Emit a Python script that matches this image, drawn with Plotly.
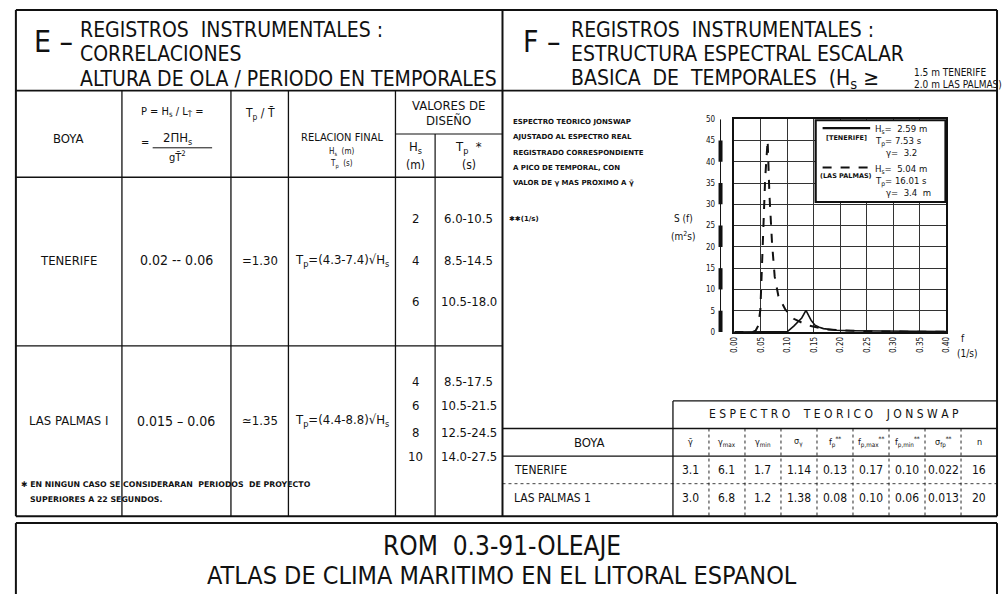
import plotly.graph_objects as go

# --- dados: espectros JONSWAP ajustados ---
freq_palmas = [0.000, 0.035, 0.040, 0.045, 0.049, 0.054, 0.058, 0.0627, 0.066, 0.071,
               0.076, 0.083, 0.096, 0.112, 0.137, 0.174, 0.237, 0.300, 0.400]
esp_palmas = [0, 0, 0.3, 1.5, 5.3, 20.9, 36, 45, 32.5, 20.9,
              13, 8.4, 5.3, 3.1, 1.6, 0.6, 0.2, 0.1, 0.05]

freq_tenerife = [0.000, 0.090, 0.100, 0.112, 0.120, 0.127, 0.135, 0.140, 0.145, 0.152,
                 0.160, 0.168, 0.180, 0.193, 0.220, 0.250, 0.300, 0.400]
esp_tenerife = [0, 0, 0.1, 1.4, 2.4, 3.3, 5.1, 3.8, 2.7, 1.6,
                1.1, 0.8, 0.6, 0.4, 0.3, 0.25, 0.15, 0.1]

x_ticks = [0.00, 0.05, 0.10, 0.15, 0.20, 0.25, 0.30, 0.35, 0.40]
x_tick_labels = ["0.00", "0.05", "0.10", "0.15", "0.20", "0.25", "0.30", "0.35", "0.40"]
y_ticks = [0, 5, 10, 15, 20, 25, 30, 35, 40, 45, 50]

# --- dados: tabela E ---
boyas_e = ["TENERIFE", "LAS PALMAS I"]
peralte = ["0.02 -- 0.06", "0.015 \u2013 0.06"]
tp_tm = ["=1.30", "\u22431.35"]
relacion = ["T<sub>p</sub>=(4.3-7.4)\u221aH<sub>s</sub>", "T<sub>p</sub>=(4.4-8.8)\u221aH<sub>s</sub>"]
hs_diseno = [["2", "4", "6"], ["4", "6", "8", "10"]]
tp_diseno = [["6.0-10.5", "8.5-14.5", "10.5-18.0"],
             ["8.5-17.5", "10.5-21.5", "12.5-24.5", "14.0-27.5"]]

# --- dados: tabela F ---
cols_jonswap = ["\u03b3\u0304", "\u03b3<sub>max</sub>", "\u03b3<sub>min</sub>", "\u03c3<sub>\u03b3</sub>",
                "f<sub>p</sub><sup>**</sup>", "f<sub>p,max</sub><sup>**</sup>",
                "f<sub>p,min</sub><sup>**</sup>", "\u03c3<sub>fp</sub><sup>**</sup>", "n"]
boyas_f = ["TENERIFE", "LAS PALMAS 1"]
valores_f = [["3.1", "6.1", "1.7", "1.14", "0.13", "0.17", "0.10", "0.022", "16"],
             ["3.0", "6.8", "1.2", "1.38", "0.08", "0.10", "0.06", "0.013", "20"]]

W, H = 1005, 599
FONTE = "DejaVu Sans Condensed, Liberation Sans, sans-serif"
FONTE_PEQ = "DejaVu Sans, sans-serif"
PRETO = "#111111"


def X(px):
    return px / W


def Y(py):
    return 1 - py / H


shapes = []
anotacoes = []


def linha(x0, y0, x1, y1, largura=1.5, dash="solid", cor=PRETO):
    shapes.append(dict(type="line", xref="paper", yref="paper",
                       x0=X(x0), y0=Y(y0), x1=X(x1), y1=Y(y1),
                       line=dict(color=cor, width=largura, dash=dash)))


def texto(x, y, s, tam=13, anchor="center", familia=FONTE, peso="normal"):
    anotacoes.append(dict(xref="paper", yref="paper", x=X(x), y=Y(y), text=s,
                          showarrow=False, xanchor=anchor, yanchor="middle",
                          font=dict(family=familia, size=tam, color=PRETO, weight=peso)))


# moldura geral
linha(12, 6, 1002, 6, 2)
linha(12, 6, 12, 520, 2)
linha(1002, 6, 1002, 520, 2)
linha(12, 520, 1002, 520, 2)
linha(503, 6, 503, 520, 2)
linha(12, 88, 1002, 88, 1.8)

# rodape
linha(12, 527, 1002, 527, 2)
linha(12, 527, 12, 599, 2)
linha(1002, 527, 1002, 599, 2)
texto(502, 550, "ROM  0.3-91-OLEAJE", 26)
texto(502, 580, "ATLAS DE CLIMA MARITIMO EN EL LITORAL ESPANOL", 25)

# --- painel E ---
texto(28, 38, "E \u2013", 30, "left")
texto(75, 26, "REGISTROS  INSTRUMENTALES :", 21, "left")
texto(75, 51, "CORRELACIONES", 21, "left")
texto(75, 76, "ALTURA DE OLA / PERIODO EN TEMPORALES", 21, "left")

for xv in [119, 229, 287, 395]:
    linha(xv, 88, xv, 520, 1.3)
linha(435, 132, 435, 520, 1.2)
linha(395, 132, 503, 132, 1.2)
linha(12, 176, 503, 176, 1.5)
linha(12, 347, 503, 347, 1.3)

texto(65, 137, "BOYA", 13)
texto(170, 110, "P = H<sub>s</sub> / L<sub>T\u0304</sub> =", 11)
texto(142, 141, "=", 11)
texto(175, 137, "2\u03a0H<sub>s</sub>", 13)
linha(150, 146, 210, 146, 1)
texto(175, 155, "gT\u0304<sup>2</sup>", 11)
texto(258, 112, "T<sub>p</sub> / T\u0304", 12)
texto(341, 136, "RELACION FINAL", 11)
texto(341, 150, "H<sub>s</sub>  (m)", 8)
texto(341, 163, "T<sub>p</sub>  (s)", 8)
texto(449, 103, "VALORES DE", 13)
texto(449, 118, "DISE\u00d1O", 13)
texto(415, 146, "H<sub>s</sub>", 13)
texto(415, 163, "(m)", 12)
texto(469, 146, "T<sub>p</sub>  *", 13)
texto(469, 163, "(s)", 12)

filas_y = [260, 423]
hs_y = [[218, 260, 302], [383, 408, 435, 459]]
for i in range(2):
    texto(65, filas_y[i], boyas_e[i], 13)
    texto(174, filas_y[i], peralte[i], 14)
    texto(258, filas_y[i], tp_tm[i], 13)
    texto(341, filas_y[i], relacion[i], 13)
    for hs, tp, yy in zip(hs_diseno[i], tp_diseno[i], hs_y[i]):
        texto(415, yy, hs, 13)
        texto(469, yy, tp, 13)

texto(15, 488, "\u2731 EN NINGUN CASO SE CONSIDERARAN  PERIODOS  DE PROYECTO", 7.8, "left", FONTE_PEQ, "bold")
texto(24, 503, "SUPERIORES A 22 SEGUNDOS.", 7.8, "left", FONTE_PEQ, "bold")

# --- painel F ---
texto(522, 38, "F \u2013", 30, "left")
texto(570, 26, "REGISTROS  INSTRUMENTALES :", 21, "left")
texto(570, 51, "ESTRUCTURA ESPECTRAL ESCALAR", 21, "left")
texto(570, 76, "BASICA  DE  TEMPORALES  (H<sub>s</sub> \u2265", 21, "left")
texto(916, 70, "1.5 m TENERIFE", 10, "left")
texto(916, 82, "2.0 m LAS PALMAS)", 10, "left")

notas = ["ESPECTRO TEORICO JONSWAP", "AJUSTADO AL ESPECTRO REAL",
         "REGISTRADO CORRESPONDIENTE", "A PICO DE TEMPORAL, CON",
         "VALOR DE \u03b3 MAS PROXIMO A \u03b3\u0304"]
for k, s in enumerate(notas):
    texto(512, 120 + 15.5 * k, s, 7, "left", FONTE_PEQ, "bold")
texto(508, 218, "\u2731\u2731(1/s)", 7, "left", FONTE_PEQ, "bold")

# tabela JONSWAP
linha(675, 403, 1002, 403, 1.3)
linha(675, 403, 675, 520, 1.3)
linha(503, 431, 1002, 431, 1.3)
linha(503, 459, 1002, 459, 1.3)
linha(503, 487, 1002, 487, 0.8, "dot")
texto(838, 416, "E S P E C T R O    T E O R I C O    J O N S W A P", 12)
texto(590, 445, "BOYA", 13)
largura_col = (1002 - 675) / len(cols_jonswap)
for j, c in enumerate(cols_jonswap):
    xc = 675 + largura_col * (j + 0.5)
    if j > 0:
        linha(675 + largura_col * j, 431, 675 + largura_col * j, 520, 0.9, "dot")
    texto(xc, 445, c, 9)
    for i in range(2):
        texto(xc, [473, 502][i], valores_f[i][j], 12)
for i in range(2):
    texto(513, [473, 502][i], boyas_f[i], 12, "left")

# legenda do grafico
shapes.append(dict(type="rect", xref="paper", yref="paper",
                   x0=X(819), y0=Y(118), x1=X(950), y1=Y(201),
                   line=dict(color=PRETO, width=2.2), fillcolor="white"))
linha(826, 126, 874, 126, 2.2)
texto(850, 136, "[TENERIFE]", 6.5, "center", FONTE_PEQ, "bold")
texto(877, 127, "H<sub>s</sub>=  2.59 m", 9.5, "left")
texto(877, 140, "T<sub>p</sub>= 7.53 s", 9.5, "left")
texto(888, 151, "\u03b3=  3.2", 9.5, "left")
linha(826, 166, 876, 166, 2.2, "dash")
texto(850, 175, "(LAS PALMAS)", 6.5, "center", FONTE_PEQ, "bold")
texto(877, 168, "H<sub>s</sub>=  5.04 m", 9.5, "left")
texto(877, 180, "T<sub>p</sub>= 16.01 s", 9.5, "left")
texto(888, 191, "\u03b3=  3.4  m", 9.5, "left")

texto(686, 218, "S (f)", 10)
texto(686, 236, "(m<sup>2</sup>s)", 10)
texto(968, 340, "f", 10)
texto(972, 355, "(1/s)", 10)

fig = go.Figure()
fig.add_trace(go.Scatter(x=freq_palmas, y=esp_palmas, mode="lines",
                         line=dict(color=PRETO, width=2, dash="dash"), name="LAS PALMAS"))
fig.add_trace(go.Scatter(x=freq_tenerife, y=esp_tenerife, mode="lines",
                         line=dict(color=PRETO, width=1.6), name="TENERIFE"))

# barra grossa do eixo y (escala alternada)
for yv in y_ticks[:-1:2]:
    shapes.append(dict(type="line", xref="paper", yref="y", x0=X(723), x1=X(723),
                       y0=yv, y1=yv + 5, line=dict(color=PRETO, width=4)))
shapes.append(dict(type="line", xref="paper", yref="y", x0=X(723), x1=X(723),
                   y0=0, y1=50, line=dict(color=PRETO, width=1)))

fig.update_layout(
    width=W, height=H, autosize=False,
    margin=dict(l=0, r=0, t=0, b=0),
    paper_bgcolor="white", plot_bgcolor="white",
    showlegend=False,
    font=dict(family=FONTE, color=PRETO),
    shapes=shapes, annotations=anotacoes,
    xaxis=dict(domain=[X(737), X(951)], range=[0, 0.40], tickvals=x_ticks,
               ticktext=x_tick_labels, tickangle=-90, tickfont=dict(size=8),
               showgrid=True, gridcolor="#333333", gridwidth=1.2, zeroline=False,
               showline=True, linecolor=PRETO, linewidth=1.5, mirror=True, ticks=""),
    yaxis=dict(domain=[Y(333), Y(117)], range=[0, 50], tickvals=y_ticks,
               tickfont=dict(size=8), ticklabelstandoff=16,
               showgrid=True, gridcolor="#333333", gridwidth=1.2, zeroline=False,
               showline=True, linecolor=PRETO, linewidth=1.5, mirror=True, ticks=""),
)

# tira a margem do body para a figura ocupar a janela toda
fig.write_html("out.html", config={"displayModeBar": False},
               post_script="document.body.style.margin='0';document.body.style.overflow='hidden';")
